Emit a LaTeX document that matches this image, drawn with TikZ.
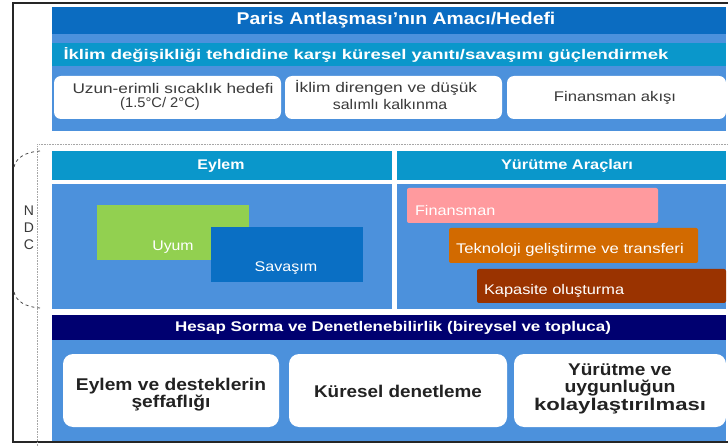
\documentclass[tikz,border=0pt]{standalone}
\usepackage{graphicx}
\usepackage{fontspec}
\setmainfont{Liberation Sans}
\definecolor{titleblue}{RGB}{11,108,193}
\definecolor{panelblue}{RGB}{76,145,220}
\definecolor{cyanbar}{RGB}{10,151,203}
\definecolor{uyumgreen}{RGB}{146,208,80}
\definecolor{savblue}{RGB}{10,111,196}
\definecolor{finpink}{RGB}{255,154,158}
\definecolor{tekorange}{RGB}{210,106,0}
\definecolor{kapbrown}{RGB}{154,51,0}
\definecolor{navybar}{RGB}{0,0,112}
\definecolor{boxtext}{RGB}{58,58,58}
\definecolor{boldtext}{RGB}{34,34,34}
\newcommand{\hs}[2]{\scalebox{#1}[1]{#2}}
\begin{document}
\begin{tikzpicture}[x=1pt,y=-1pt,
  every node/.style={inner sep=0pt,outer sep=0pt},
  panel/.style={anchor=north west,fill=#1},
  wbox/.style={anchor=north west,fill=white,rounded corners=7pt},
  titletxt/.style={text=white,font=\bfseries\fontsize{17}{19}\selectfont},
  bartxt/.style={text=white,font=\bfseries\fontsize{14}{16}\selectfont},
  smalltxt/.style={text=boxtext,align=center,font=\fontsize{14}{15.5}\selectfont},
  bigtxt/.style={text=boldtext,align=center,font=\bfseries\fontsize{17}{17.5}\selectfont},
  innertxt/.style={text=white,font=\fontsize{14}{16}\selectfont},
  ndctxt/.style={text=boxtext,font=\fontsize{14}{15}\selectfont}]
\useasboundingbox (0,0) rectangle (728,446);
\fill[white] (0,0) rectangle (728,446);
% outer frame
\draw[line width=2.6pt,black!85] (730,3) -- (13,3) -- (13,442) -- (730,442);
% top panel
\node[panel=panelblue,minimum width=674,minimum height=124] (toppanel) at (52,7) {};
\node[panel=titleblue,minimum width=674,minimum height=27] (titlebar) at (52,7) {};
\node[titletxt] (titletext) at (396,20.5) {\hs{1.14}{Paris Antlaşması’nın Amacı/Hedefi}};
\node[panel=cyanbar,minimum width=674,minimum height=23] (subbar) at (52,43) {};
\node[bartxt] (subtext) at (366,54.5) {\hs{1.32}{İklim değişikliği tehdidine karşı küresel yanıtı/savaşımı güçlendirmek}};
\node[wbox,minimum width=227,minimum height=43] (u1) at (54,76) {};
\node[smalltxt] (u1a) at (173,88) {\hs{1.23}{Uzun-erimli sıcaklık hedefi}};
\node[smalltxt] (u1b) at (160,104) {\hs{1.05}{(1.5°C/ 2°C)}};
\node[wbox,minimum width=217,minimum height=43] (u2) at (285,76) {};
\node[smalltxt] (u2a) at (386,88) {\hs{1.24}{İklim direngen ve düşük}};
\node[smalltxt] (u2b) at (390,104) {\hs{1.14}{salımlı kalkınma}};
\node[wbox,minimum width=219,minimum height=43] (u3) at (507,76) {};
\node[smalltxt] (u3a) at (615,97.5) {\hs{1.19}{Finansman akışı}};
% dotted NDC region
\coordinate (dA) at (37,446);
\coordinate (dB) at (37,144);
\coordinate (dC) at (728,144);
\draw[gray!70,line width=0.8pt,dash pattern=on 0.8pt off 0.8pt] (dA) -- (dB) -- (dC);
\coordinate (bt1) at (40,151);
\coordinate (bt2) at (14,167);
\coordinate (bb1) at (14,292);
\coordinate (bb2) at (40,308);
\draw[gray!60!black,dashed,line width=0.8pt] (bt1) .. controls (25,152) and (16,158) .. (bt2);
\draw[gray!60!black,dashed,line width=0.8pt] (bb1) .. controls (16,301) and (25,307) .. (bb2);
\node[ndctxt] (nN) at (29,211) {N};
\node[ndctxt] (nD) at (29,228) {D};
\node[ndctxt] (nC) at (29,245) {C};
% Eylem
\node[panel=cyanbar,minimum width=340,minimum height=29] (eylemhead) at (52,151) {};
\node[bartxt] (eylemtext) at (221,165.5) {\hs{1.14}{Eylem}};
\node[panel=panelblue,minimum width=340,minimum height=125] (eylembody) at (52,184) {};
\node[panel=uyumgreen,minimum width=152,minimum height=55] (uyum) at (97,205) {};
\node[innertxt] (uyumtext) at (173,247) {\hs{1.13}{Uyum}};
\node[panel=savblue,minimum width=152,minimum height=55] (savasim) at (211,227) {};
\node[innertxt] (savtext) at (286,268) {\hs{1.15}{Savaşım}};
% Yurutme
\node[panel=cyanbar,minimum width=329,minimum height=29] (yurhead) at (397,151) {};
\node[bartxt] (yurtext) at (567,165.5) {\hs{1.17}{Yürütme Araçları}};
\node[panel=panelblue,minimum width=329,minimum height=125] (yurbody) at (397,184) {};
\node[panel=finpink,rounded corners=2pt,minimum width=251,minimum height=35] (fin) at (407,188) {};
\node[innertxt,anchor=west] (fintext) at (415,210) {\hs{1.16}{Finansman}};
\node[panel=tekorange,rounded corners=2pt,minimum width=249,minimum height=35] (tek) at (449,228) {};
\node[innertxt,anchor=west] (tektext) at (456,250) {\hs{1.19}{Teknoloji geliştirme ve transferi}};
\node[panel=kapbrown,rounded corners=2pt,minimum width=249,minimum height=34] (kap) at (477,269) {};
\node[innertxt,anchor=west] (kaptext) at (484,291) {\hs{1.17}{Kapasite oluşturma}};
% Hesap
\node[panel=navybar,minimum width=674,minimum height=25] (hesap) at (52,315) {};
\node[bartxt] (hesaptext) at (393,327.5) {\hs{1.21}{Hesap Sorma ve Denetlenebilirlik (bireysel ve topluca)}};
\node[panel=panelblue,minimum width=674,minimum height=101] (botpanel) at (52,340) {};
\node[wbox,rounded corners=10pt,minimum width=216,minimum height=73] (b1) at (63,354) {};
\node[bigtxt] (b1t) at ([yshift=-4pt]b1.center) {\hs{1.13}{Eylem ve desteklerin}\\\hs{1.13}{şeffaflığı}};
\node[wbox,rounded corners=10pt,minimum width=218,minimum height=73] (b2) at (289,354) {};
\node[bigtxt] (b2t) at ([yshift=-1pt]b2.center) {\hs{1.11}{Küresel denetleme}};
\node[wbox,rounded corners=10pt,minimum width=212,minimum height=73] (b3) at (514,354) {};
\node[bigtxt] (b3t) at ([yshift=2pt]b3.center) {\hs{1.12}{Yürütme ve}\\\hs{1.14}{uygunluğun}\\\hs{1.3}{kolaylaştırılması}};
\end{tikzpicture}
\end{document}
